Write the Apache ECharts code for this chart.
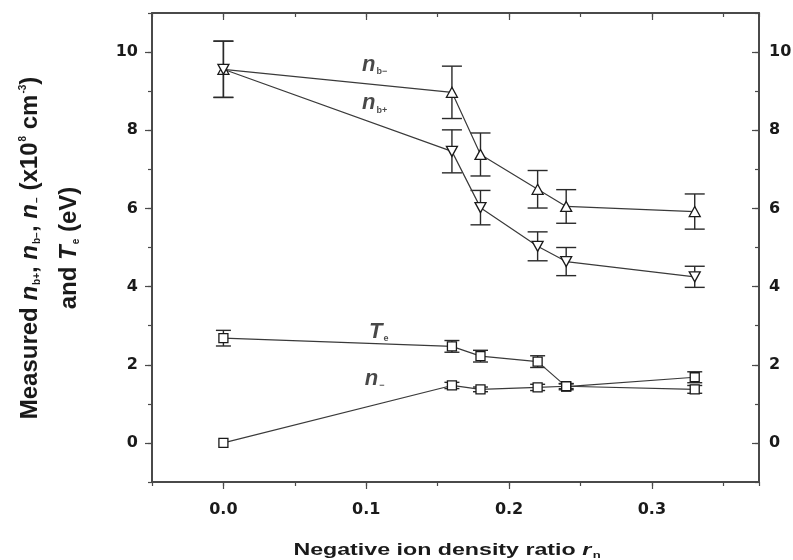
<!DOCTYPE html>
<html><head><meta charset="utf-8">
<script src="https://cdn.jsdelivr.net/npm/echarts@6/dist/echarts.min.js"></script>
<style>html,body{margin:0;padding:0;background:#fff}#c{width:793px;height:560px}</style>
</head><body><div id="c"></div>
<script>
// ---- data ----
const rn = [0, 0.16, 0.18, 0.22, 0.24, 0.33];
const nbMinus = [9.56, 8.97, 7.38, 6.49, 6.05, 5.92];
const nbMinusErr = [0.72, 0.67, 0.55, 0.48, 0.43, 0.45];
const nbPlus = [9.56, 7.46, 6.02, 5.03, 4.64, 4.25];
const nbPlusErr = [0.72, 0.55, 0.44, 0.37, 0.36, 0.27];
const Te = [2.68, 2.47, 2.22, 2.08, 1.44, 1.68];
const TeErr = [0.2, 0.15, 0.15, 0.15, 0.08, 0.14];
const nMinus = [0, 1.47, 1.37, 1.42, 1.45, 1.37];
const nMinusErr = [0, 0.08, 0.06, 0.08, 0.06, 0.1];
const xTicks = [0, 0.1, 0.2, 0.3];
const yTicks = [0, 2, 4, 6, 8, 10];
const labelX = [0.097, 0.097, 0.102, 0.099];
const labelY = [9.67, 8.69, 2.85, 1.64];
const labelText = ['{i|n}{s|b−}', '{i|n}{s|b+}', '{i|T}{s|e}', '{i|n}{s|−}'];

const AX = '#4a4a4a';
const FONT = 'DejaVu Sans';
const TF = 'Liberation Sans';

function errSeries(vals, errs, capW) {
  const d = [];
  rn.forEach((x, i) => { if (errs[i] > 0) d.push([x, vals[i] - errs[i], vals[i] + errs[i]]); });
  return {
    type: 'custom', z: 2, silent: true, data: d,
    renderItem: function (params, api) {
      const lo = api.coord([api.value(0), api.value(1)]);
      const hi = api.coord([api.value(0), api.value(2)]);
      const hw = capW / 2;
      const st = { stroke: '#2a2a2a', lineWidth: 1.4 };
      return { type: 'group', children: [
        { type: 'line', shape: { x1: lo[0], y1: lo[1], x2: hi[0], y2: hi[1] }, style: st },
        { type: 'line', shape: { x1: lo[0] - hw, y1: lo[1], x2: lo[0] + hw, y2: lo[1] }, style: st },
        { type: 'line', shape: { x1: hi[0] - hw, y1: hi[1], x2: hi[0] + hw, y2: hi[1] }, style: st }
      ]};
    }
  };
}
function lineSeries(vals, symbol, rot, size) {
  return {
    type: 'line', z: 3, data: rn.map((x, i) => [x, vals[i]]),
    symbol: symbol, symbolRotate: rot, symbolSize: size, showAllSymbol: true,
    itemStyle: { color: '#fff', borderColor: '#1a1a1a', borderWidth: 1.3 },
    lineStyle: { color: '#3a3a3a', width: 1.2 }, animation: false
  };
}

const common = { type: 'value', splitLine: { show: false } };
const xMin = -0.05, xMax = 0.375, yMin = -1, yMax = 11;
const labelStyle = { fontFamily: FONT, fontWeight: 'bold', fontSize: 16, color: '#1a1a1a' };

function richSet(size, lh, subSize, shift) {
  return {
    t: { fontFamily: TF, fontWeight: 'bold', fontSize: size, lineHeight: lh, fill: '#1a1a1a', color: '#1a1a1a' },
    i: { fontFamily: TF, fontWeight: 'bold', fontStyle: 'italic', fontSize: size, lineHeight: lh, fill: '#1a1a1a', color: '#1a1a1a' },
    s: { fontFamily: TF, fontWeight: 'bold', fontSize: subSize, verticalAlign: 'middle', padding: [shift * 2, 0, 0, 1], fill: '#1a1a1a', color: '#1a1a1a' },
    p: { fontFamily: TF, fontWeight: 'bold', fontSize: subSize, verticalAlign: 'middle', padding: [0, 0, shift * 2, 1], fill: '#1a1a1a', color: '#1a1a1a' }
  };
}

const option = {
  animation: false,
  backgroundColor: '#fff',
  grid: { left: 152, right: 34, top: 13, bottom: 78, containLabel: false, outerBoundsMode: 'none' },
  xAxis: [
    Object.assign({}, common, { position: 'bottom', min: xMin, max: xMax, interval: 0.05,
      axisLine: { show: true, onZero: false, lineStyle: { color: AX, width: 2 } },
      axisTick: { show: true, inside: false, length: 4, lineStyle: { color: AX, width: 1.2 } },
      axisLabel: Object.assign({ customValues: xTicks, margin: 20, formatter: v => v.toFixed(1) }, labelStyle) }),
    Object.assign({}, common, { position: 'top', min: xMin, max: xMax, interval: 0.05,
      axisLine: { show: true, onZero: false, lineStyle: { color: AX, width: 2 } },
      axisTick: { show: true, inside: true, length: 4, lineStyle: { color: AX, width: 1.2 } },
      axisLabel: { show: false } }),
    Object.assign({}, common, { position: 'bottom', min: xMin, max: xMax, interval: 0.05,
      axisLine: { show: false, onZero: false },
      axisTick: { show: true, inside: false, length: 7, customValues: xTicks, lineStyle: { color: AX, width: 1.2 } },
      axisLabel: { show: false } }),
    Object.assign({}, common, { position: 'top', min: xMin, max: xMax, interval: 0.05,
      axisLine: { show: false, onZero: false },
      axisTick: { show: true, inside: true, length: 7, customValues: xTicks, lineStyle: { color: AX, width: 1.2 } },
      axisLabel: { show: false } })
  ],
  yAxis: [
    Object.assign({}, common, { position: 'left', min: yMin, max: yMax, interval: 1,
      axisLine: { show: true, onZero: false, lineStyle: { color: AX, width: 2 } },
      axisTick: { show: true, inside: false, length: 4, lineStyle: { color: AX, width: 1.2 } },
      axisLabel: Object.assign({ customValues: yTicks, margin: 14 }, labelStyle) }),
    Object.assign({}, common, { position: 'right', min: yMin, max: yMax, interval: 1,
      axisLine: { show: true, onZero: false, lineStyle: { color: AX, width: 2 } },
      axisTick: { show: true, inside: true, length: 4, lineStyle: { color: AX, width: 1.2 } },
      axisLabel: Object.assign({ customValues: yTicks, margin: 10 }, labelStyle) }),
    Object.assign({}, common, { position: 'left', min: yMin, max: yMax, interval: 1,
      axisLine: { show: false, onZero: false },
      axisTick: { show: true, inside: false, length: 7, customValues: yTicks, lineStyle: { color: AX, width: 1.2 } },
      axisLabel: { show: false } }),
    Object.assign({}, common, { position: 'right', min: yMin, max: yMax, interval: 1,
      axisLine: { show: false, onZero: false },
      axisTick: { show: true, inside: true, length: 7, customValues: yTicks, lineStyle: { color: AX, width: 1.2 } },
      axisLabel: { show: false } })
  ],
  series: [
    errSeries(nbMinus, nbMinusErr, 20),
    errSeries(nbPlus, nbPlusErr, 20),
    errSeries(Te, TeErr, 15),
    errSeries(nMinus, nMinusErr, 15),
    lineSeries(nbMinus, 'triangle', 0, [11, 10]),
    lineSeries(nbPlus, 'triangle', 180, [11, 10]),
    lineSeries(Te, 'rect', 0, 9),
    lineSeries(nMinus, 'rect', 0, 9),
    {
      type: 'scatter', z: 4, silent: true, symbolSize: 0,
      data: labelX.map((x, i) => ({ value: [x, labelY[i]], label: { formatter: labelText[i] } })),
      label: { show: true, position: 'right', distance: 0, color: '#1a1a1a', rich: richSet(22, 24, 9, 7) }
    }
  ],
  graphic: [
    { type: 'text', x: 50, y: 248, rotation: Math.PI / 2,
      style: {
        text: '{t|Measured }{i|n}{s|b+}{t|, }{i|n}{s|b−}{t|, }{i|n}{s|−}{t| (x10}{p|8}{t| cm}{p|-3}{t|)}\n{t|and }{i|T}{s|e}{t| (eV)}',
        align: 'center', verticalAlign: 'middle', fill: '#1a1a1a',
        rich: richSet(24, 39, 10, 7)
      } },
    { type: 'text', x: 447, y: 551, scaleX: 1.45,
      style: {
        text: '{t|Negative ion density ratio }{i|r}{s|n}',
        align: 'center', verticalAlign: 'middle', fill: '#1a1a1a',
        rich: richSet(16, 18, 9, 5)
      } }
  ]
};
echarts.init(document.getElementById('c'), null, { renderer: 'canvas' }).setOption(option);
</script>
</body></html>
